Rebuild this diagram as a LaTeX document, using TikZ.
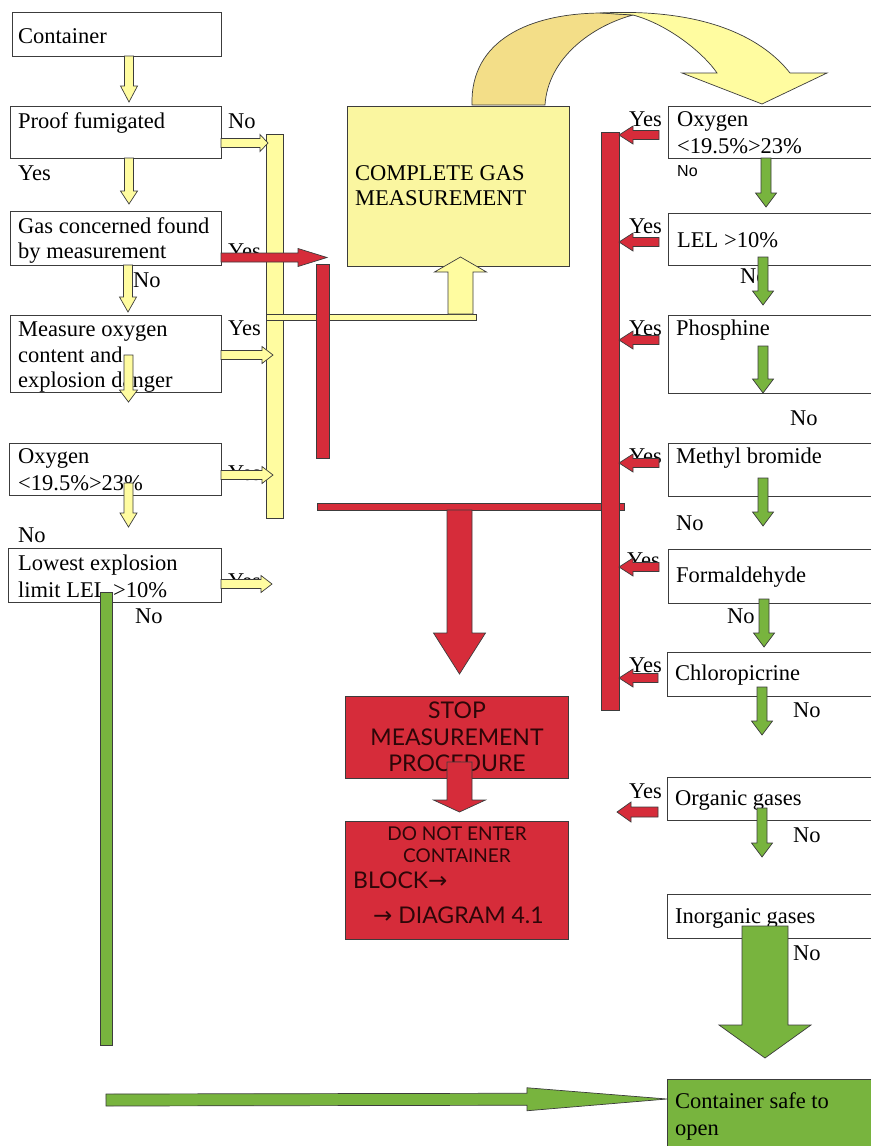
\documentclass[tikz,border=0pt]{standalone}
\usepackage{fontspec}
\setmainfont{Liberation Serif}
\newfontfamily\sansf{Liberation Sans}
\newfontfamily\optf{Lato}
\newfontfamily\symf{DejaVu Sans}
\usetikzlibrary{calc}
\definecolor{yel}{RGB}{255,252,160}
\definecolor{yelbox}{RGB}{250,246,160}
\definecolor{yeldark}{RGB}{243,222,136}
\definecolor{redf}{RGB}{214,44,58}
\definecolor{grn}{RGB}{120,180,62}
\definecolor{edge}{RGB}{60,60,60}
\definecolor{redtxt}{RGB}{45,6,8}
\newcommand\barrow[6]{%
 \draw[#1] let \p1=#2, \p2=#3, \n1={veclen(\x2-\x1,\y2-\y1)}, \n2={(\x2-\x1)/\n1}, \n3={(\y2-\y1)/\n1} in
 ({\x1-(\n3)*#4},{\y1+(\n2)*#4}) --
 ({\x1+(\n2)*(\n1-#6)-(\n3)*#4},{\y1+(\n3)*(\n1-#6)+(\n2)*#4}) --
 ({\x1+(\n2)*(\n1-#6)-(\n3)*#5},{\y1+(\n3)*(\n1-#6)+(\n2)*#5}) --
 (\p2) --
 ({\x1+(\n2)*(\n1-#6)+(\n3)*#5},{\y1+(\n3)*(\n1-#6)-(\n2)*#5}) --
 ({\x1+(\n2)*(\n1-#6)+(\n3)*#4},{\y1+(\n3)*(\n1-#6)-(\n2)*#4}) --
 ({\x1+(\n3)*#4},{\y1-(\n2)*#4}) -- cycle;}
\newcommand\bx[5]{\node[box, minimum width=#4pt, minimum height=#5pt] (#1) at (#2,#3) {};}
% box cut off by the right edge of the page: no right side
\newcommand\rbx[6]{\node[box, draw=none, fill=#6, minimum width=#4pt, minimum height=#5pt] (#1) at (#2,#3) {};
 \draw[edgeline] (#1.north east) -- (#1.north west) -- (#1.south west) -- (#1.south east);}
\begin{document}
\begin{tikzpicture}[x=1pt,y=-1pt,
 box/.style={draw=edge, line width=0.8pt, fill=white, inner sep=0pt, outer sep=0pt, anchor=north west},
 edgeline/.style={draw=edge, line width=0.8pt},
 bar/.style={draw=edge, line width=0.7pt, inner sep=0pt, outer sep=0pt, anchor=north west},
 tx/.style={font=\fontsize{22.5}{26}\selectfont, inner sep=0pt, anchor=base west},
 sm/.style={font=\sansf\fontsize{16}{18}\selectfont, inner sep=0pt, anchor=base west},
 rt/.style={font=\optf\fontsize{23}{26}\selectfont, text=redtxt, inner sep=0pt, anchor=base},
 rs/.style={font=\optf\fontsize{19}{22}\selectfont, text=redtxt, inner sep=0pt, anchor=base},
 ya/.style={draw=edge, line width=0.7pt, fill=yel},
 ra/.style={draw=edge, line width=0.7pt, fill=redf},
 ga/.style={draw=edge, line width=0.7pt, fill=grn}]
\useasboundingbox (0,0) rectangle (871,1146);
% ---------- left column boxes
\bx{cont}{12}{12}{209}{44}
\bx{proof}{10}{106}{211}{52}
\bx{gas}{10}{211}{211}{54}
\bx{meas}{10}{315}{211}{77}
\bx{oxl}{9}{443}{212}{52}
\bx{lel}{8}{548}{213}{54}
\node[tx] (t1) at (18,43) {Container};
\node[tx] (t2) at (18,128) {Proof fumigated};
\node[tx] (t3) at (228,128) {No};
\node[tx] (t4) at (18,180) {Yes};
\node[tx] (t5) at (18,233) {Gas concerned found};
\node[tx] (t6) at (18,258) {by measurement};
\node[tx] (t7) at (228,258) {Yes};
\node[tx] (t8) at (133,287) {No};
\node[tx] (t9) at (18,336) {Measure oxygen};
\node[tx] (t10) at (18,362) {content and};
\node[tx] (t11) at (18,387) {explosion danger};
\node[tx] (t12) at (228,335) {Yes};
\node[tx] (t13) at (18,463) {Oxygen};
\node[tx] (t14) at (18,490) {<19.5\%>23\%};
\node[tx] (t15) at (228,480) {Yes};
\node[tx] (t16) at (18,542) {No};
\node[tx] (t17) at (18,570) {Lowest explosion};
\node[tx] (t18) at (18,597) {limit LEL >10\%};
\node[tx] (t19) at (228,588) {Yes};
\node[tx] (t20) at (135,623) {No};
% ---------- right column boxes (cut off by the right edge)
\rbx{oxr}{668}{106}{203}{52}{white}
\rbx{lelr}{668}{213}{203}{52}{white}
\rbx{pho}{668}{315}{203}{78}{white}
\rbx{meb}{668}{443}{203}{53}{white}
\rbx{form}{668}{549}{203}{54}{white}
\rbx{chl}{667}{652}{204}{44}{white}
\rbx{org}{667}{777}{204}{43}{white}
\rbx{inorg}{667}{894}{204}{44}{white}
\node[box, draw=none, fill=grn, minimum width=204pt, minimum height=67pt] (safe) at (667,1079) {};
\draw[edgeline] (safe.north east) -- (safe.north west) -- (safe.south west);
\node[tx] (r1) at (677,126) {Oxygen};
\node[tx] (r2) at (677,153) {<19.5\%>23\%};
\node[sm] (r3) at (677,176) {No};
\node[tx] (r4) at (629,126) {Yes};
\node[tx] (r5) at (677,247) {LEL >10\%};
\node[tx] (r6) at (629,233) {Yes};
\node[tx] (r7) at (740,283) {No};
\node[tx] (r8) at (676,335) {Phosphine};
\node[tx] (r9) at (629,335) {Yes};
\node[tx] (r10) at (790,425) {No};
\node[tx] (r11) at (676,463) {Methyl bromide};
\node[tx] (r12) at (629,463) {Yes};
\node[tx] (r13) at (676,530) {No};
\node[tx] (r14) at (676,582) {Formaldehyde};
\node[tx] (r15) at (627,567) {Yes};
\node[tx] (r16) at (727,623) {No};
\node[tx] (r17) at (675,680) {Chloropicrine};
\node[tx] (r18) at (629,672) {Yes};
\node[tx] (r19) at (793,717) {No};
\node[tx] (r20) at (675,805) {Organic gases};
\node[tx] (r21) at (629,798) {Yes};
\node[tx] (r22) at (793,842) {No};
\node[tx] (r23) at (675,923) {Inorganic gases};
\node[tx] (r24) at (793,960) {No};
\node[tx] (r25) at (675,1108) {Container safe to};
\node[tx] (r26) at (675,1135) {open};
% ---------- complete gas measurement
\node[box, fill=yelbox, minimum width=222pt, minimum height=160pt] (cgm) at (347,106) {};
\node[tx] (c1) at (355,180) {COMPLETE GAS};
\node[tx] (c2) at (355,205) {MEASUREMENT};
% curved arrow
\draw[ya, fill=yeldark] (472,105) .. controls (470,40) and (530,13) .. (603,13) -- (633,15)
  .. controls (592,26) and (548,58) .. (545,105) -- cycle;
\draw[ya] (600,13) .. controls (700,8) and (760,35) .. (790,73) -- (827,73) -- (762,104) -- (682,73) -- (717,73)
  .. controls (705,55) and (670,25) .. (633,15) -- cycle;
% ---------- red boxes
\node[box, fill=redf, minimum width=223pt, minimum height=82pt] (stop) at (345,696) {};
\node[rt] (s1) at (457,718) {STOP};
\node[rt] (s2) at (457,745) {MEASUREMENT};
\node[rt] (s3) at (457,771) {PROCEDURE};
\node[box, fill=redf, minimum width=223pt, minimum height=118pt] (dne) at (345,821) {};
\node[rs] (d1) at (457,840) {DO NOT ENTER};
\node[rs] (d2) at (457,862) {CONTAINER};
\node[rt, anchor=base west] (d3) at (353,888) {BLOCK{\symf →}};
\node[rt, anchor=base west] (d4) at (373,923) {{\symf →} DIAGRAM 4.1};
% ---------- bars
\node[bar, fill=yel, minimum width=17pt, minimum height=384pt] (ybar) at (266,134) {};
\node[bar, fill=yel, minimum width=210pt, minimum height=6pt] (ythin) at (266,314) {};
\node[bar, fill=redf, minimum width=13pt, minimum height=194pt] (rmid) at (316,264) {};
\node[bar, fill=redf, minimum width=307pt, minimum height=7pt] (rhbar) at (317,503) {};
\node[bar, fill=redf, minimum width=18pt, minimum height=578pt] (rbar) at (601,132) {};
\node[bar, fill=grn, minimum width=12pt, minimum height=453pt] (gbar) at (100,592) {};
% ---------- yellow arrows, left column
\barrow{ya}{(129,0 |- cont.south)}{($(129,0 |- proof.north)+(0,-4)$)}{4.5}{8.5}{16}
\barrow{ya}{(129,0 |- proof.south)}{($(129,0 |- gas.north)+(0,-7)$)}{4.5}{8.5}{13}
\barrow{ya}{(128,0 |- gas.south)}{($(128,0 |- meas.north)+(0,-3)$)}{4.5}{8.5}{15}
\barrow{ya}{($(128.5,0 |- meas.north)+(0,40)$)}{($(128.5,0 |- oxl.north)+(0,-41)$)}{4.5}{9}{12}
\barrow{ya}{($(128.5,0 |- oxl.north)+(0,40)$)}{($(128.5,0 |- lel.north)+(0,-21)$)}{4.5}{8.5}{14}
\barrow{ya}{(proof.east |- 0,143)}{($(ybar.west |- 0,143)+(2,0)$)}{4.5}{8.5}{8}
\barrow{ya}{(meas.east |- 0,355)}{($(ybar.west |- 0,355)+(7,0)$)}{4.5}{8.5}{11}
\barrow{ya}{(oxl.east |- 0,475)}{($(ybar.west |- 0,475)+(7,0)$)}{4.5}{8.5}{11}
\barrow{ya}{(lel.east |- 0,584)}{($(lel.east |- 0,584)+(51,0)$)}{4.5}{8.5}{11}
\barrow{ya}{(460.5,0 |- ythin.north)}{($(460.5,0 |- cgm.south)+(0,-9)$)}{12.5}{26}{15}
% ---------- red arrows
\barrow{ra}{(gas.east |- 0,257.5)}{($(gas.east |- 0,257.5)+(106,0)$)}{4.5}{9}{29}
\foreach \bn/\yy in {oxr/135, lelr/242, pho/340, meb/463, form/567, chl/678}{
 \barrow{ra}{($(\bn.west |- 0,\yy)+(-9,0)$)}{(rbar.east |- 0,\yy)}{4.5}{9}{14}
}
\barrow{ra}{($(org.west |- 0,812)+(-9,0)$)}{($(org.west |- 0,812)+(-50,0)$)}{5}{10}{14}
\barrow{ra}{(459.5,0 |- rhbar.south)}{($(459.5,0 |- stop.north)+(0,-22)$)}{12.5}{26}{41}
\barrow{ra}{($(459.5,0 |- stop.south)+(0,-16)$)}{($(459.5,0 |- dne.north)+(0,-9)$)}{12.5}{26}{12}
% ---------- green arrows
\barrow{ga}{(766,0 |- oxr.south)}{($(766,0 |- lelr.north)+(0,-6)$)}{5}{10.5}{14}
\barrow{ga}{($(763,0 |- lelr.south)+(0,-8)$)}{($(763,0 |- lelr.south)+(0,40)$)}{5}{10.5}{14}
\barrow{ga}{($(763,0 |- pho.north)+(0,31)$)}{(763,0 |- pho.south)}{5}{10.5}{14}
\barrow{ga}{($(763,0 |- meb.north)+(0,35)$)}{($(763,0 |- meb.south)+(0,30)$)}{5}{10.5}{14}
\barrow{ga}{($(764,0 |- form.south)+(0,-4)$)}{($(764,0 |- chl.north)+(0,-5)$)}{5}{10.5}{14}
\barrow{ga}{($(762,0 |- chl.south)+(0,-9)$)}{($(762,0 |- chl.south)+(0,39)$)}{5}{10.5}{14}
\barrow{ga}{($(762,0 |- org.south)+(0,-12)$)}{($(762,0 |- org.south)+(0,37)$)}{5}{10.5}{14}
\barrow{ga}{($(765,0 |- inorg.south)+(0,-12)$)}{($(765,0 |- safe.north)+(0,-21)$)}{23}{46}{33}
\barrow{ga}{(gbar.south |- 0,1100)}{(safe.west |- 0,1099)}{6}{11.5}{140}
\end{tikzpicture}
\end{document}
